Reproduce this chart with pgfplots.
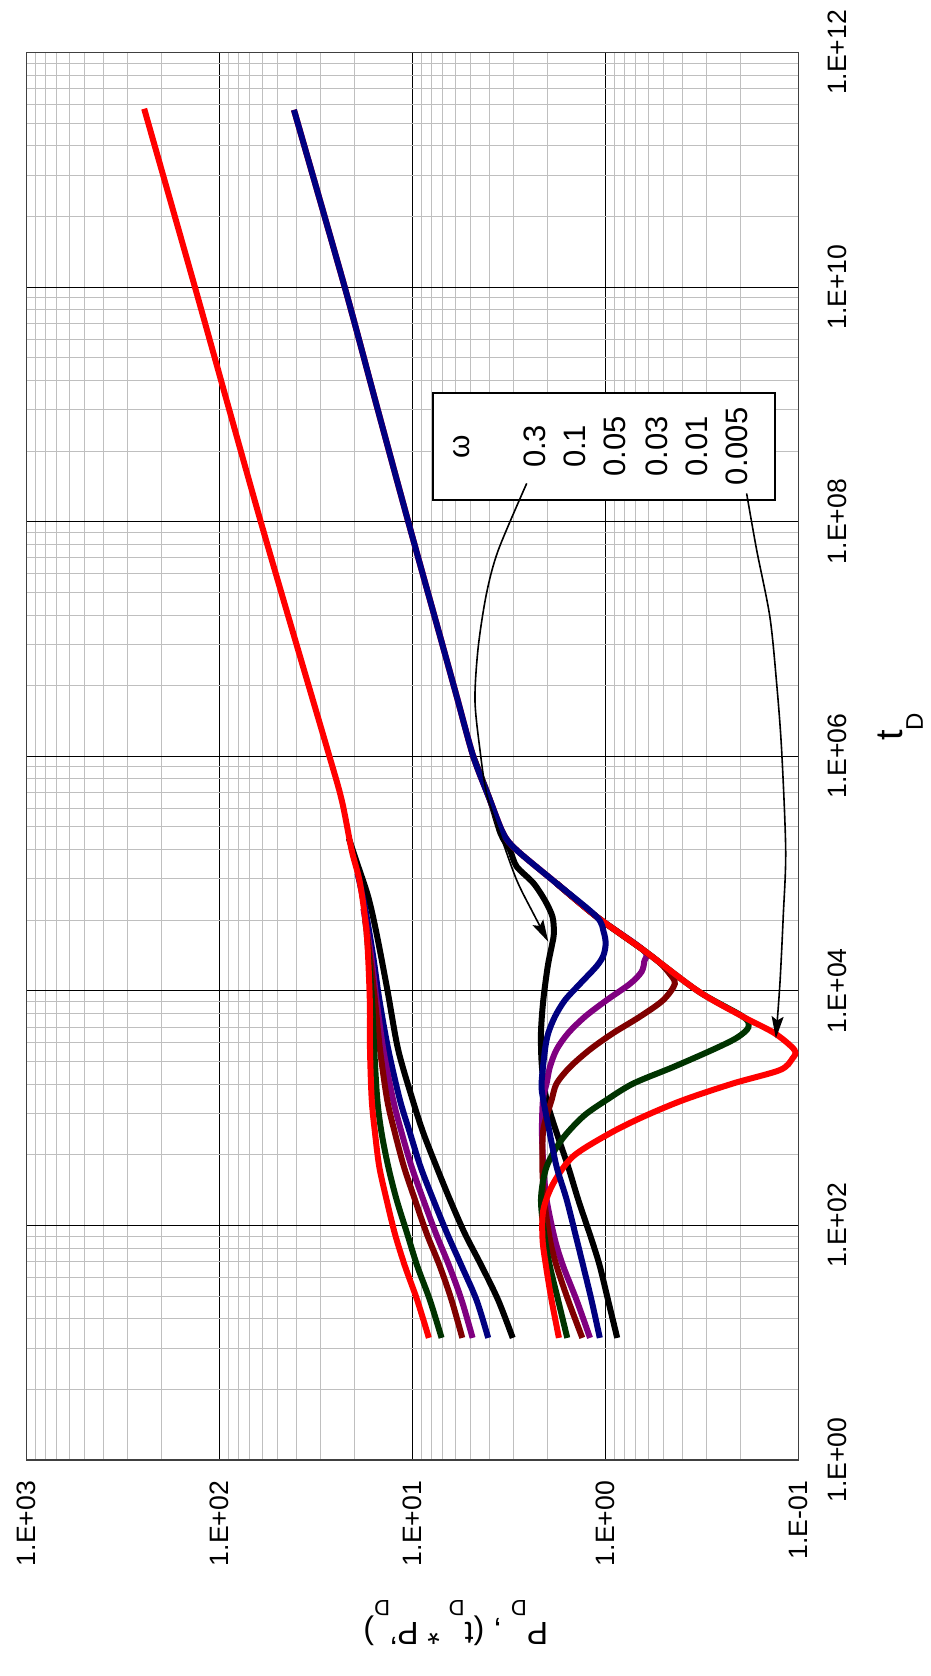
\documentclass[border=0pt]{standalone}
\usepackage{fontspec}
\setmainfont{Liberation Sans}
\usepackage{pgfplots}
\usepackage{pgfplotstable}
\pgfplotsset{compat=1.18}
\usetikzlibrary{arrows.meta}

\definecolor{cRed}{RGB}{255,0,0}
\definecolor{cGreen}{RGB}{0,51,0}
\definecolor{cMaroon}{RGB}{128,0,0}
\definecolor{cPurple}{RGB}{128,0,128}
\definecolor{cNavy}{RGB}{0,0,128}
\newcommand{\sub}[1]{\raisebox{-11pt}{\fontsize{11}{12}\selectfont #1}}
\newcommand{\subt}[1]{\raisebox{-10pt}{\fontsize{12}{13}\selectfont #1}}

% pressure P_D against t_D, one table per omega
\pgfplotstableread{
t P
11 3.03
23 3.60
45 4.39
85 5.36
166 6.41
316 7.52
617 8.81
1175 10.0
3162 11.89
1e4 13.49
30903 15.38
63096 16.98
125893 19.5
199526 21.4
}\pBlack
\pgfplotstableread{
t P
11 4.06
23 4.66
45 5.57
85 6.62
166 7.82
316 9.10
617 10.33
1175 11.64
3162 13.37
8318 14.86
19953 16.03
50119 17.6
1e5 19.28
}\pNavy
\pgfplotstableread{
t P
11 4.89
23 5.57
45 6.46
85 7.57
166 8.81
316 10.12
617 11.40
1175 12.62
3162 14.19
8318 15.38
19953 16.41
50119 17.99
}\pPurple
\pgfplotstableread{
t P
11 5.53
23 6.28
45 7.23
85 8.45
166 9.73
316 11.09
617 12.36
1175 13.55
3162 14.76
8318 15.67
19953 16.67
39811 17.62
}\pMaroon
\pgfplotstableread{
t P
11 7.08
23 8.13
45 9.46
85 10.67
166 12.11
316 13.37
617 14.49
1175 15.24
3162 15.81
8318 16.22
19953 16.9
30903 17.30
}\pGreen
\pgfplotstableread{
t P
11 8.24
23 9.46
45 10.96
85 12.36
166 13.65
316 14.89
617 15.67
1175 16.29
3162 16.63
8318 16.67
30903 17.30
83176 18.75
158489 20.70
426580 23.33
1.12e6 27.54
1e7 40.74
1e8 61.24
1e9 90.78
1e10 134.3
3.31e11 246.0
}\pRed

% derivative t_D*P'_D
\pgfplotstableread{
t P
11 0.871
23 0.971
45 1.072
76 1.183
166 1.387
316 1.563
617 1.795
1175 2.023
2239 2.138
4365 2.163
8318 2.104
16218 1.995
25119 1.892
30903 1.854
42658 1.884
58884 2.061
83176 2.371
114815 2.891
158489 3.133
218776 3.50
426580 3.981
1e6 4.853
}\dBlack
\pgfplotstableread{
t P
11 1.205
23 1.413
45 1.660
76 1.832
166 2.023
316 2.099
617 2.138
1175 2.113
1622 2.023
2239 1.945
3162 1.795
4365 1.563
6026 1.279
8318 0.989
11482 0.748
14454 0.653
17783 0.631
22284 0.638
42855 1.114
82414 1.795
}\dPurple
\pgfplotstableread{
t P
11 1.321
23 1.563
45 1.795
76 1.945
166 2.080
316 2.128
617 2.113
851 2.023
1175 1.905
1622 1.795
2239 1.531
3162 1.205
4365 0.914
6026 0.664
8318 0.504
11482 0.438
14125 0.468
17378 0.525
22284 0.638
42855 1.114
82414 1.795
}\dMaroon
\pgfplotstableread{
t P
11 1.581
23 1.762
45 1.945
76 2.061
166 2.163
316 2.023
537 1.690
851 1.306
1175 0.989
1622 0.719
2239 0.447
3162 0.277
3981 0.209
4898 0.182
6012 0.194
9908 0.331
22284 0.638
42855 1.114
82414 1.795
}\dGreen
\pgfplotstableread{
t P
11 1.746
23 1.905
45 2.037
76 2.123
135 2.104
229 1.866
389 1.472
610 0.951
845 0.638
1172 0.396
1626 0.218
2113 0.125
2630 0.108
3126 0.105
4345 0.133
6012 0.194
9908 0.331
22284 0.638
42855 1.114
82414 1.795
158489 2.891
218776 3.388
426580 3.981
1e6 4.853
3.162e6 5.888
1e7 7.145
1e8 10.54
1e9 15.42
1e10 22.49
3.24e11 41.21
}\dRed
\pgfplotstableread{
t P
11 1.072
23 1.183
45 1.306
76 1.413
166 1.592
316 1.795
617 1.95
1175 2.104
1622 2.148
3162 2.061
4365 1.982
6026 1.832
8318 1.626
11482 1.358
16218 1.114
19953 1.028
25119 1.0
31623 1.023
42855 1.114
82414 1.795
158489 2.891
218776 3.388
426580 3.981
1e6 4.853
3.162e6 5.888
1e7 7.145
1e8 10.54
1e9 15.42
1e10 22.49
3.24e11 41.21
}\dNavy

% arrows from the box to the minima
\pgfplotstableread{
t P
2.12e8 2.564
5.73e7 3.597
2.45e7 4.140
8.57e6 4.571
3.01e6 4.753
1.13e6 4.477
4.83e5 4.140
2.20e5 3.532
8.81e4 2.891
4.58e4 2.371
2.62e4 1.982
}\arrA
\pgfplotstableread{
t P
1.74e8 0.186
5.73e7 0.165
1.55e7 0.141
4.18e6 0.130
1.13e6 0.1225
1.58e5 0.1167
4.29e4 0.1202
1.16e4 0.125
3936 0.1312
}\arrB

\begin{document}
\begin{tikzpicture}
\begin{axis}[
    width=386pt, height=703.8pt, scale only axis,
    xmode=log, ymode=log, x dir=reverse,
    xmin=0.1, xmax=1000, ymin=1, ymax=1e12,
    xtick={0.1,1,10,100,1000},
    xticklabels={1.E-01,1.E+00,1.E+01,1.E+02,1.E+03},
    ytick={1,1e2,1e4,1e6,1e8,1e10,1e12},
    yticklabels={1.E+00,1.E+02,1.E+04,1.E+06,1.E+08,1.E+10,1.E+12},
    yticklabel pos=right,
    minor ytick={4,9,16,25,36,49,64,81,
        400,900,1600,2500,3600,4900,6400,8100,
        4e4,9e4,1.6e5,2.5e5,3.6e5,4.9e5,6.4e5,8.1e5,
        4e6,9e6,1.6e7,2.5e7,3.6e7,4.9e7,6.4e7,8.1e7,
        4e8,9e8,1.6e9,2.5e9,3.6e9,4.9e9,6.4e9,8.1e9,
        4e10,9e10,1.6e11,2.5e11,3.6e11,4.9e11,6.4e11,8.1e11},
    minor xtick={0.2,0.3,0.4,0.5,0.6,0.7,0.8,0.9,
        2,3,4,5,6,7,8,9,20,30,40,50,60,70,80,90,
        200,300,400,500,600,700,800,900},
    grid=both,
    major grid style={black, line width=0.5pt},
    minor grid style={gray!50, line width=0.5pt},
    major tick length=0pt, minor tick length=0pt,
    axis line style={black!75, line width=0.7pt},
    tick label style={font=\fontsize{13.3}{15}\selectfont},
    xticklabel style={rotate=90, anchor=east},
    yticklabel style={rotate=90, anchor=north},
    xticklabel shift=7pt,
    yticklabel shift=11pt,
    xlabel={P\sub{D} , (t\sub{D} * P'\sub{D})},
    ylabel={t\subt{D}},
    every axis x label/.style={at={(axis description cs:0.556,-0.116)}, anchor=center,
        rotate=180, font=\fontsize{16}{17}\selectfont},
    every axis y label/.style={at={(axis description cs:1.132,0.521)}, anchor=center,
        rotate=90, font=\fontsize{19}{21}\selectfont},
    every axis plot/.append style={line width=3pt, smooth, tension=0.5},
]

% pressure curves
\addplot[black] table[x=P, y=t] {\pBlack};
\addplot[cNavy] table[x=P, y=t] {\pNavy};
\addplot[cPurple] table[x=P, y=t] {\pPurple};
\addplot[cMaroon] table[x=P, y=t] {\pMaroon};
\addplot[cGreen] table[x=P, y=t] {\pGreen};
\addplot[cRed] table[x=P, y=t] {\pRed};

% derivative curves
\addplot[black] table[x=P, y=t] {\dBlack};
\addplot[cPurple] table[x=P, y=t] {\dPurple};
\addplot[cMaroon] table[x=P, y=t] {\dMaroon};
\addplot[cGreen] table[x=P, y=t] {\dGreen};
\addplot[cRed] table[x=P, y=t] {\dRed};
\addplot[cNavy] table[x=P, y=t] {\dNavy};

% omega box
\draw[black, line width=0.9pt, fill=white] (axis cs:7.816,1.53e8) rectangle (axis cs:0.133,1.256e9);
\node[rotate=90, font=\fontsize{15}{16}\selectfont] at (axis cs:5.57,4.38e8) {ω};
\node[rotate=90, font=\fontsize{15.5}{17}\selectfont] at (axis cs:2.32,4.38e8) {0.3};
\node[rotate=90, font=\fontsize{15.5}{17}\selectfont] at (axis cs:1.443,4.38e8) {0.1};
\node[rotate=90, font=\fontsize{15.5}{17}\selectfont] at (axis cs:0.895,4.38e8) {0.05};
\node[rotate=90, font=\fontsize{15.5}{17}\selectfont] at (axis cs:0.544,4.38e8) {0.03};
\node[rotate=90, font=\fontsize{15.5}{17}\selectfont] at (axis cs:0.337,4.38e8) {0.01};
\node[rotate=90, font=\fontsize{15.5}{17}\selectfont] at (axis cs:0.2094,4.38e8) {0.005};

% arrows
\addplot[black, line width=0.8pt, -{Stealth[length=11pt,width=6pt,inset=2pt]}] table[x=P, y=t] {\arrA};
\addplot[black, line width=0.8pt, -{Stealth[length=11pt,width=6pt,inset=2pt]}] table[x=P, y=t] {\arrB};

\coordinate (bbA) at (axis cs:1374,0.01442);
\coordinate (bbB) at (axis cs:0.0207,2.80e12);
\end{axis}
\pgfresetboundingbox
\path[use as bounding box] (bbA) rectangle (bbB);
\end{tikzpicture}
\end{document}
